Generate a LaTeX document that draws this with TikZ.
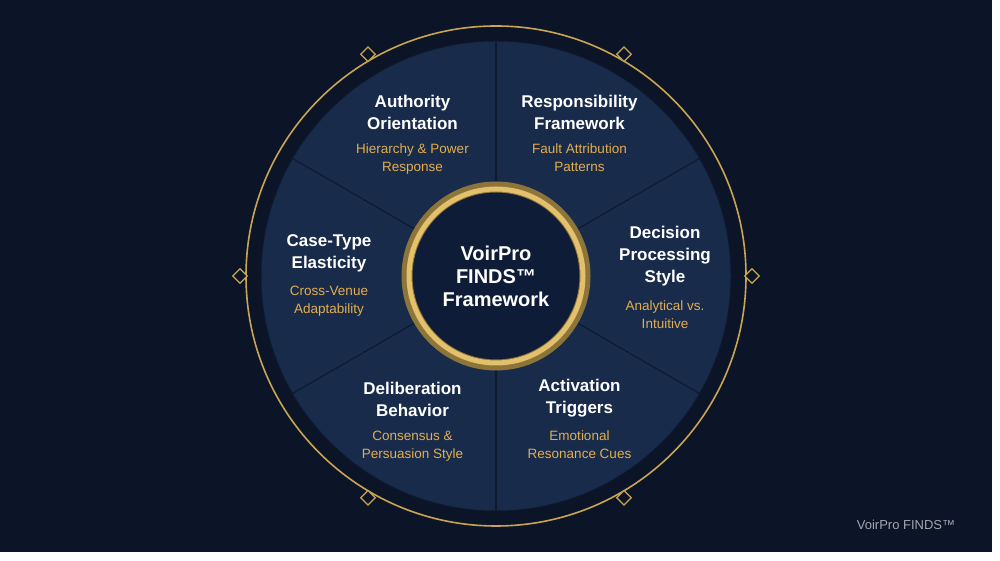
\documentclass[tikz,border=0pt]{standalone}
\usepackage{fontspec}
\setmainfont{Liberation Sans}
\usetikzlibrary{shapes.geometric,positioning,calc}
\definecolor{bgnavy}{HTML}{0C1528}
\definecolor{disknavy}{HTML}{182B4B}
\definecolor{linenavy}{HTML}{0E1A30}
\definecolor{hubnavy}{HTML}{0F1C38}
\definecolor{gold}{HTML}{C9A552}
\definecolor{paleGold}{HTML}{E2C06C}
\definecolor{subgold}{HTML}{E3AE4E}
\definecolor{footgray}{HTML}{A3A6AD}
\tikzset{
  title/.style={text=white,font=\fontsize{17}{22}\selectfont\bfseries,align=center},
  sub/.style={text=subgold,font=\fontsize{13.5}{18}\selectfont,align=center},
  gem/.style={diamond,draw=gold,line width=1.3pt,fill=bgnavy,minimum size=15pt,inner sep=0pt}
}
\begin{document}
\begin{tikzpicture}[x=1pt,y=1pt]
\useasboundingbox (0,0) rectangle (1000,561);
\fill[white] (0,0) rectangle (1000,561);
\fill[bgnavy] (0,9) rectangle (992,561);
\coordinate (c) at (496,285);
% outer ring and diamonds
\draw[gold,line width=1.6pt] (c) circle (250);
\foreach \a in {0,60,...,300}
  \node[gem] (g\a) at ($(c)+(\a:256)$) {};
% wheel
\fill[disknavy] (c) circle (235);
\draw[linenavy,line width=1pt] (c) circle (235);
\foreach \a in {30,90,...,330}
  \draw[linenavy,line width=1.2pt] (c) -- ++(\a:235);
% hub
\fill[hubnavy] (c) circle (92);
\draw[gold!70!black,line width=11pt] (c) circle (89);
\draw[paleGold,line width=5pt] (c) circle (87);
\node[title,font=\fontsize{20}{23}\selectfont\bfseries] (hub) at (c) {VoirPro\\FINDS™\\Framework};
% segments
\node[title,anchor=south] (auth) at ($(c)+(120:167)+(0,-2)$) {Authority\\Orientation};
\node[sub,below=7pt of auth] (authS) {Hierarchy \& Power\\Response};
\node[title,anchor=south] (resp) at ($(c)+(60:167)+(0,-2)$) {Responsibility\\Framework};
\node[sub,below=7pt of resp] (respS) {Fault Attribution\\Patterns};
\node[title,anchor=south] (dec) at ($(c)+(0:169)+(0,-14)$) {Decision\\Processing\\Style};
\node[sub,below=7pt of dec] (decS) {Analytical vs.\\Intuitive};
\node[title,anchor=south] (case) at ($(c)+(180:167)+(0,0)$) {Case-Type\\Elasticity};
\node[sub,below=7pt of case] (caseS) {Cross-Venue\\Adaptability};
\node[title,anchor=south] (delib) at ($(c)+(240:167)+(0,0)$) {Deliberation\\Behavior};
\node[sub,below=7pt of delib] (delibS) {Consensus \&\\Persuasion Style};
\node[title,anchor=south] (act) at ($(c)+(300:167)+(0,0)$) {Activation\\Triggers};
\node[sub,below=7pt of act] (actS) {Emotional\\Resonance Cues};
% footer
\node[text=footgray,font=\fontsize{13}{15}\selectfont] (foot) at (906,36) {VoirPro FINDS™};
\end{tikzpicture}
\end{document}
